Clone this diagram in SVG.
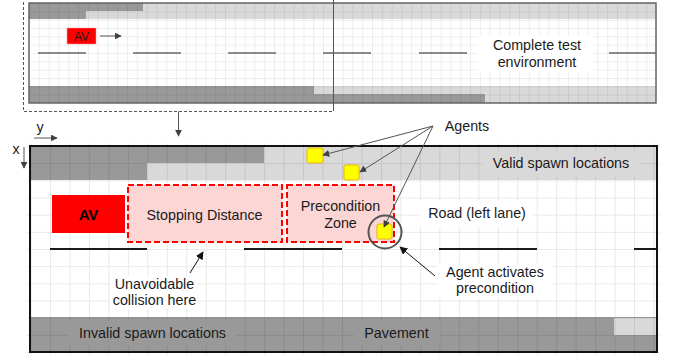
<svg xmlns="http://www.w3.org/2000/svg" width="673" height="358" viewBox="0 0 673 358">
<defs>
<pattern id="gridBig" patternUnits="userSpaceOnUse" x="30.5" y="146" width="19.47" height="17.17">
<path d="M0.5 0 V17.17 M0 0.5 H19.47" fill="none" stroke="#000" stroke-opacity="0.09" stroke-width="1"/>
</pattern>
<pattern id="gridSmall" patternUnits="userSpaceOnUse" x="29" y="3" width="9.8" height="8.33">
<path d="M0.5 0 V8.33 M0 0.5 H9.8" fill="none" stroke="#000" stroke-opacity="0.07" stroke-width="1"/>
</pattern>
<marker id="ah" viewBox="0 0 10 10" refX="9" refY="5" markerWidth="7" markerHeight="7" markerUnits="userSpaceOnUse" orient="auto">
<path d="M0 0 L10 5 L0 10 z" fill="#404040"/>
</marker>
<marker id="ahb" viewBox="0 0 10 10" refX="9" refY="5" markerWidth="8" markerHeight="8" markerUnits="userSpaceOnUse" orient="auto">
<path d="M0 0 L10 5 L0 10 z" fill="#111"/>
</marker>
</defs>
<style>
text { font-family: "Liberation Sans", Arial, sans-serif; font-size: 14.3px; fill: #1a1a1a; text-anchor: middle; }
.dark { fill: #999999; }
.light { fill: #d9d9d9; }
.zone { fill: #fcd5d5; stroke: #ff0000; stroke-width: 2; stroke-dasharray: 6 3; }
.agent { fill: #ffff00; stroke: #e6b800; stroke-width: 1; }
.lane { stroke: #1a1a1a; stroke-width: 2; }
.laneS { stroke: #666; stroke-width: 1.5; }
.conn { stroke: #555; stroke-width: 1; fill: none; }
</style>

<g id="overview">
<rect x="29" y="3" width="627" height="100" fill="#fff"/>
<rect x="29" y="3" width="627" height="16" class="light"/>
<rect x="29" y="3" width="114" height="8" class="dark"/>
<rect x="29" y="11" width="57" height="8" class="dark"/>
<rect x="29" y="86" width="627" height="17" class="light"/>
<rect x="29" y="86" width="285" height="8" class="dark"/>
<rect x="29" y="94" width="456" height="9" class="dark"/>
<rect x="29" y="3" width="627" height="100" fill="url(#gridSmall)"/>
<g class="laneS">
<line x1="38" y1="53" x2="86" y2="53"/>
<line x1="133" y1="53" x2="181" y2="53"/>
<line x1="228" y1="53" x2="276" y2="53"/>
<line x1="323" y1="53" x2="371" y2="53"/>
<line x1="419" y1="53" x2="467" y2="53"/>
<line x1="609" y1="53" x2="656" y2="53"/>
</g>
<rect x="29" y="3" width="627" height="100" fill="none" stroke="#666" stroke-width="1.5"/>
<rect x="67" y="28" width="29" height="16" fill="#ff0000" stroke="#ff9999" stroke-width="0.5"/>
<text x="81.5" y="41" style="font-size:12px">AV</text>
<line x1="100" y1="36" x2="121" y2="36" class="conn" marker-end="url(#ah)"/>
<rect x="478" y="35" width="115" height="37" fill="#fff"/>
<text x="537" y="50">Complete test</text>
<text x="537" y="67">environment</text>
</g>

<g id="detail">
<rect x="30" y="146" width="627" height="206" fill="#fff"/>
<rect x="30" y="146" width="627" height="34" class="light"/>
<rect x="30" y="146" width="234" height="17" class="dark"/>
<rect x="30" y="163" width="117" height="17" class="dark"/>
<rect x="30" y="317" width="627" height="35" class="dark"/>
<rect x="614" y="318" width="43" height="17" class="light"/>
<rect x="27" y="143" width="633" height="212" fill="url(#gridBig)"/>
<g class="lane">
<line x1="50" y1="249" x2="147" y2="249"/>
<line x1="244" y1="249" x2="342" y2="249"/>
<line x1="439" y1="249" x2="537" y2="249"/>
<line x1="634" y1="249" x2="657" y2="249"/>
</g>
<rect x="30" y="146" width="627" height="206" fill="none" stroke="#111" stroke-width="2"/>
</g>

<g id="labels-bg">
<rect x="482" y="151" width="158" height="26" class="light"/>
<rect x="420" y="200" width="113" height="27" fill="#fff"/>
<rect x="110" y="276" width="87" height="33" fill="#fff"/>
<rect x="437" y="263" width="115" height="35" fill="#fff"/>
<rect x="68" y="321" width="168" height="24" class="dark"/>
<rect x="354" y="321" width="86" height="24" class="dark"/>
</g>

<g id="av">
<rect x="52" y="195" width="73" height="38" fill="#ff0000"/>
<text x="88.5" y="220" style="font-size:15px;font-weight:bold;fill:#000">AV</text>
</g>

<g id="stopping-distance">
<rect x="128" y="185" width="154" height="57" class="zone"/>
<text x="204.5" y="220">Stopping Distance</text>
</g>

<g id="precondition-zone">
<rect x="287" y="185" width="107" height="57" class="zone"/>
<text x="340.5" y="211">Precondition</text>
<text x="340.5" y="228">Zone</text>
</g>

<g id="agent1"><rect x="307" y="148" width="16" height="15" rx="2" class="agent"/></g>
<g id="agent2"><rect x="344" y="165" width="15" height="15" rx="2" class="agent"/></g>
<g id="agent3">
<rect x="377" y="224" width="15" height="15" rx="2" class="agent"/>
<circle cx="385" cy="232" r="16.5" fill="none" stroke="#555" stroke-width="2"/>
</g>

<g id="text-labels">
<text x="561" y="168">Valid spawn locations</text>
<text x="477" y="218">Road (left lane)</text>
<text x="467" y="131">Agents</text>
<text x="154.5" y="289">Unavoidable</text>
<text x="154.5" y="305">collision here</text>
<text x="495" y="277">Agent activates</text>
<text x="495" y="293">precondition</text>
<text x="152.5" y="338">Invalid spawn locations</text>
<text x="396.5" y="338">Pavement</text>
<text x="40" y="132">y</text>
<text x="16" y="154">x</text>
</g>

<g id="connectors">
<rect x="23.5" y="-2" width="310" height="113.5" fill="none" stroke="#555" stroke-width="1" stroke-dasharray="3 2"/>
<line x1="333.5" y1="0" x2="333.5" y2="111" stroke="#555" stroke-width="1" stroke-dasharray="3 2"/>
<line x1="178.5" y1="111.5" x2="178.5" y2="136" class="conn" marker-end="url(#ah)"/>
<line x1="34" y1="138" x2="57" y2="138" class="conn" marker-end="url(#ah)"/>
<line x1="24" y1="147" x2="24" y2="168" class="conn" marker-end="url(#ah)"/>
<line x1="433" y1="126" x2="323" y2="155" class="conn" marker-end="url(#ah)"/>
<line x1="433" y1="126" x2="360" y2="172" class="conn" marker-end="url(#ah)"/>
<line x1="433" y1="126" x2="384" y2="227" class="conn" marker-end="url(#ah)"/>
<line x1="190" y1="273" x2="203" y2="252" stroke="#111" stroke-width="1" marker-end="url(#ahb)"/>
<line x1="435" y1="276" x2="400" y2="247" stroke="#111" stroke-width="1" marker-end="url(#ahb)"/>
</g>
</svg>
